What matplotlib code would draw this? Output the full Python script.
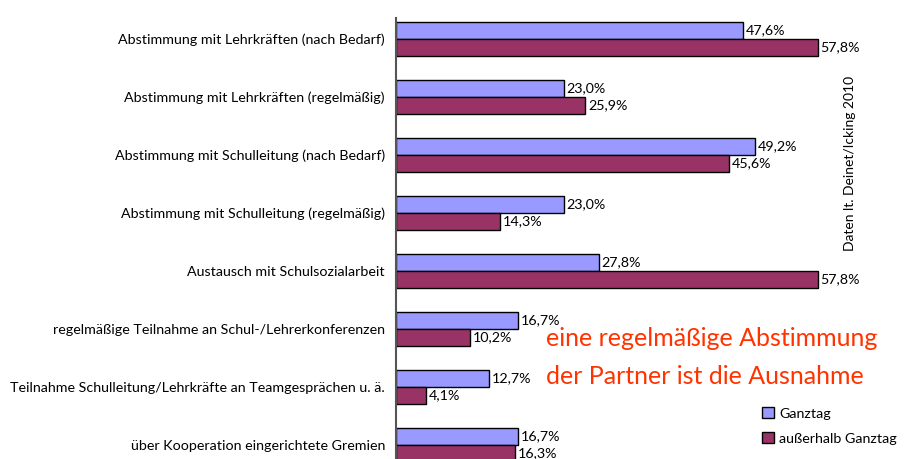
import matplotlib.pyplot as plt
import numpy as np

# data
kategorien = [
    "Abstimmung mit Lehrkräften (nach Bedarf)",
    "Abstimmung mit Lehrkräften (regelmäßig)",
    "Abstimmung mit Schulleitung (nach Bedarf)",
    "Abstimmung mit Schulleitung (regelmäßig)",
    "Austausch mit Schulsozialarbeit",
    "regelmäßige Teilnahme an Schul-/Lehrerkonferenzen",
    "Teilnahme Schulleitung/Lehrkräfte an Teamgesprächen u. ä.",
    "über Kooperation eingerichtete Gremien",
]
ganztag = [47.6, 23.0, 49.2, 23.0, 27.8, 16.7, 12.7, 16.7]
ausserhalb = [57.8, 25.9, 45.6, 14.3, 57.8, 10.2, 4.1, 16.3]

blau = "#9999FF"
rot = "#993366"

plt.rcParams['font.family'] = ['Lato', 'DejaVu Sans']

fig = plt.figure(figsize=(9.07, 4.59), dpi=100)
ax = fig.add_axes([396 / 907, -15 / 459, 511 / 907, 456 / 459])

y = np.arange(len(kategorien))
h = 0.293
b1 = ax.barh(y - h / 2, ganztag, height=h, color=blau, edgecolor="black", linewidth=1, label="Ganztag")
b2 = ax.barh(y + h / 2, ausserhalb, height=h, color=rot, edgecolor="black", linewidth=1, label="außerhalb Ganztag")

for bars, vals in [(b1, ganztag), (b2, ausserhalb)]:
    for bar, v in zip(bars, vals):
        ax.annotate(f"{v:.1f}%".replace(".", ","),
                    (bar.get_width(), bar.get_y() + bar.get_height() / 2),
                    xytext=(2, 0), textcoords="offset points",
                    va="center", ha="left", fontsize=10.3)

ax.set_xlim(0, 70)
ax.set_ylim(7.5, -0.36)
ax.set_yticks(y)
ax.set_yticklabels(kategorien, fontsize=10.3)
ax.tick_params(axis="y", length=0, pad=8)
ax.set_xticks([])
for s in ["top", "right", "bottom"]:
    ax.spines[s].set_visible(False)
ax.spines["left"].set_color("#555555")
ax.spines["left"].set_linewidth(1.5)
ax.patch.set_alpha(0)

fig.text(546 / 907, 1 - 338 / 459, "eine regelmäßige Abstimmung", color="#FF3300",
         fontsize=18, va="center", ha="left")
fig.text(546 / 907, 1 - 377 / 459, "der Partner ist die Ausnahme", color="#FF3300",
         fontsize=18, va="center", ha="left")

fig.text(850 / 907, 1 - 163 / 459, "Daten lt. Deinet/Icking 2010", rotation=90,
         fontsize=10, va="center", ha="center")

fig.legend(handles=[b1, b2], loc="upper left", bbox_to_anchor=(755 / 907, 1 - 400 / 459),
           frameon=False, fontsize=10.3, handlelength=0.8, handleheight=0.8,
           handletextpad=0.4, labelspacing=0.9, borderpad=0)

fig.savefig("out.png", dpi=100)
